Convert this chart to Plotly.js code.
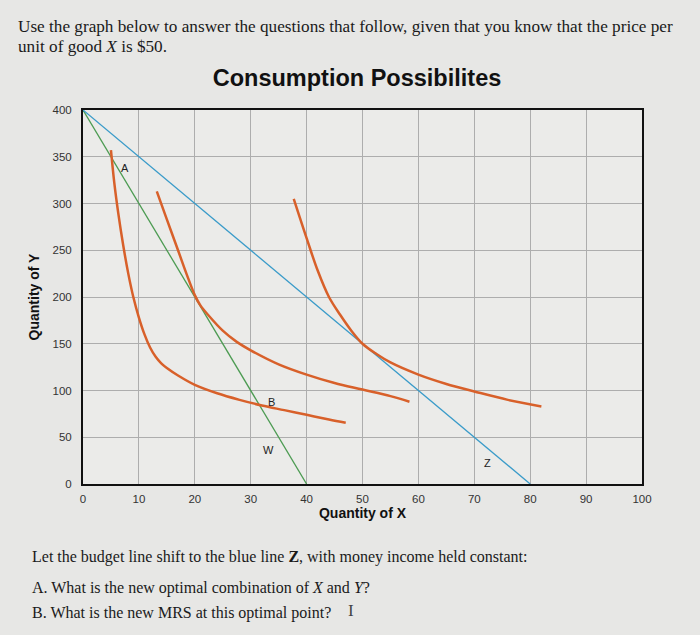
<!DOCTYPE html>
<html>
<head>
<meta charset="utf-8">
<script src="https://cdn.plot.ly/plotly-3.0.1.min.js"></script>
<style>
  body { margin: 0; background: #e7e7e5; }
  #chart { width: 700px; height: 635px; }
</style>
</head>
<body>
<div id="chart"></div>
<script>
// budget lines
var budgetW_x = [0, 40];
var budgetW_y = [400, 0];
var budgetZ_x = [0, 80];
var budgetZ_y = [400, 0];

// indifference curves
var curve1_x = [5, 5.6, 6.3, 7.2, 8.1, 9, 10, 11, 12, 13, 14, 15, 17, 20, 24, 28, 32, 36, 40, 44, 47];
var curve1_y = [357, 322, 290, 255, 225, 200, 178, 160, 146, 136, 129, 124, 116, 106, 97, 90, 84, 79, 74, 69, 65.5];
var curve2_x = [13.2, 15, 17, 18.5, 20, 21, 22.5, 25, 27.5, 30, 35, 40, 45, 50, 55, 58.4];
var curve2_y = [313, 283, 250, 225, 202, 191, 180, 164, 152, 143, 128, 117, 108, 101, 94, 88];
var curve3_x = [37.7, 40, 42, 44, 46, 48, 50, 52.5, 55, 60, 65, 70, 76, 82];
var curve3_y = [305, 263, 228, 200, 181, 164, 150, 139, 130, 117, 107, 99, 90, 83];

// point labels
var labelText = ['A', 'B', 'W', 'Z'];
var labelX = [7.6, 33.8, 33.2, 72.4];
var labelY = [338, 88, 36, 22];

var orange = '#d8602a';

function curve(x, y) {
  return {
    x: x, y: y, mode: 'lines', type: 'scatter',
    line: { color: orange, width: 2.5, shape: 'spline', smoothing: 1 },
    hoverinfo: 'skip'
  };
}

var traceW = {
  x: budgetW_x, y: budgetW_y, mode: 'lines', type: 'scatter',
  line: { color: '#4c9b52', width: 1.3 }
};
var traceZ = {
  x: budgetZ_x, y: budgetZ_y, mode: 'lines', type: 'scatter',
  line: { color: '#3a9bc9', width: 1.3 }
};

var data = [traceW, traceZ, curve(curve1_x, curve1_y), curve(curve2_x, curve2_y), curve(curve3_x, curve3_y)];

var annotations = labelText.map(function (t, i) {
  return {
    x: labelX[i], y: labelY[i], text: t, showarrow: false,
    font: { family: 'Liberation Sans, Arial', size: 11, color: '#222' }
  };
});

// page text around the chart: [text, left px, centre y px, font size]
var pageText = [
  ['Use the graph below to answer the questions that follow, given that you know that the price per', 16, 26, 17.2],
  ['unit of good <i>X</i> is $50.', 16, 46, 17.2],
  ['Let the budget line shift to the blue line <b>Z</b>, with money income held constant:', 30, 557, 16],
  ['A. What is the new optimal combination of <i>X</i> and <i>Y</i>?', 30, 588, 16],
  ['B. What is the new MRS at this optimal point?', 30, 613, 16]
];
pageText.forEach(function (p) {
  annotations.push({
    xref: 'paper', yref: 'paper', x: (p[1] - 83) / (700 - 83 - 58),
    y: (635 - 151 - p[2]) / (635 - 110 - 151), xanchor: 'left', yanchor: 'middle',
    text: p[0], showarrow: false,
    font: { family: 'Liberation Serif, Times New Roman', size: p[3], color: '#1a1a1a' }
  });
});
annotations.push({
  xref: 'paper', yref: 'paper', x: (346 - 83) / 559, y: (484 - 610) / 374,
  text: 'I', showarrow: false, xanchor: 'left', yanchor: 'middle',
  font: { family: 'Liberation Serif', size: 17, color: '#444' }
});

var layout = {
  width: 700, height: 635,
  margin: { l: 83, r: 58, t: 110, b: 151 },
  paper_bgcolor: '#e7e7e5',
  plot_bgcolor: '#ebebe9',
  showlegend: false,
  title: {
    text: '<b>Consumption Possibilites</b>',
    font: { family: 'Liberation Sans, Arial', size: 23.5, color: '#111' },
    x: 0.51, xanchor: 'center', y: 0.877, yanchor: 'middle'
  },
  xaxis: {
    range: [0, 100], dtick: 10, tick0: 0,
    showgrid: true, gridcolor: '#adadad', gridwidth: 1,
    showline: true, linecolor: '#111', linewidth: 2, mirror: true,
    zeroline: false, ticks: '', ticklabelstandoff: 3,
    tickfont: { family: 'Liberation Sans, Arial', size: 11.5, color: '#333' },
    title: { text: '<b>Quantity of X</b>', font: { family: 'Liberation Sans, Arial', size: 14, color: '#111' }, standoff: 4 }
  },
  yaxis: {
    range: [0, 400], dtick: 50, tick0: 0,
    showgrid: true, gridcolor: '#adadad', gridwidth: 1,
    showline: true, linecolor: '#111', linewidth: 2, mirror: true,
    zeroline: false, ticks: '', ticklabelstandoff: 7,
    tickfont: { family: 'Liberation Sans, Arial', size: 11.5, color: '#333' },
    title: { text: '<b>Quantity of Y</b>', font: { family: 'Liberation Sans, Arial', size: 14, color: '#111' }, standoff: 10 }
  },
  annotations: annotations
};

Plotly.newPlot('chart', data, layout, { displayModeBar: false, staticPlot: true });
</script>
</body>
</html>
